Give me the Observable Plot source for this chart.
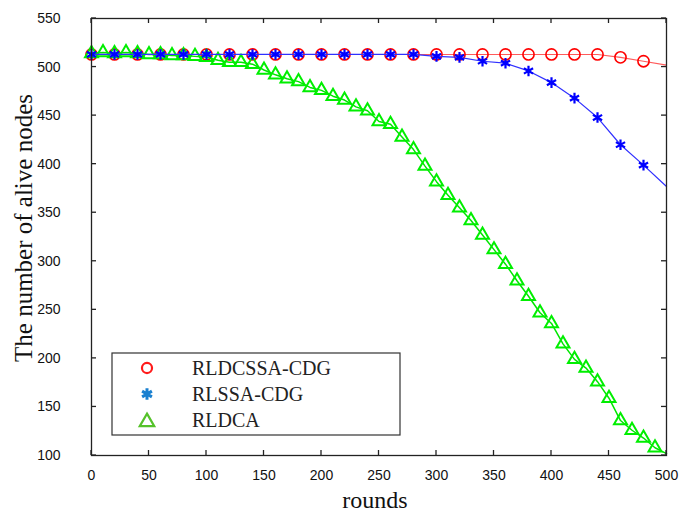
<!DOCTYPE html>
<html>
<head>
<meta charset="utf-8">
<script src="https://cdn.jsdelivr.net/npm/d3@7"></script>
<script src="https://cdn.jsdelivr.net/npm/@observablehq/plot@0.6"></script>
<style>
  html, body { margin: 0; padding: 0; background: white; }
  #chart { position: relative; width: 682px; height: 513px; }
</style>
</head>
<body>
<div id="chart"></div>
<script>
// ---- data ----
const xTicks = [0, 50, 100, 150, 200, 250, 300, 350, 400, 450, 500];
const yTicks = [100, 150, 200, 250, 300, 350, 400, 450, 500, 550];

// RLDCSSA-CDG and RLSSA-CDG: sampled every 20 rounds (markers at 0..480, line to 500)
const rounds20 = [0, 20, 40, 60, 80, 100, 120, 140, 160, 180, 200, 220, 240, 260, 280, 300, 320, 340, 360, 380, 400, 420, 440, 460, 480, 500];
const rldcssa = [513, 513, 513, 513, 513, 513, 513, 513, 513, 513, 513, 513, 513, 513, 513, 513, 513, 513, 513, 513, 513, 513, 513, 510, 506, 502];
const rlssa   = [513, 513, 513, 513, 513, 513, 513, 513, 513, 513, 513, 513, 513, 513, 513, 511, 510, 506, 504, 496, 484, 468, 448, 420, 399, 377];

// RLDCA: sampled every 10 rounds (markers at 0..490, line to 500)
const rounds10 = [0, 10, 20, 30, 40, 50, 60, 70, 80, 90, 100, 110, 120, 130, 140, 150, 160, 170, 180, 190, 200, 210, 220, 230, 240, 250, 260, 270, 280, 290, 300, 310, 320, 330, 340, 350, 360, 370, 380, 390, 400, 410, 420, 430, 440, 450, 460, 470, 480, 490, 500];
const rldca = [514, 515, 514, 515, 514, 513, 513, 512, 512, 511, 510, 507, 505, 505, 503, 497, 492, 488, 485, 479, 476, 470, 466, 459, 455, 444, 441, 428, 415, 398, 382, 368, 355, 342, 327, 312, 297, 280, 264, 247, 236, 215, 199, 190, 176, 159, 136, 126, 118, 108, 102];

const seriesNames = ["RLDCSSA-CDG", "RLSSA-CDG", "RLDCA"];
const markerEnd = 500; // last sample has no marker

// ---- tables built from the arrays ----
const redData = rounds20.map((r, i) => ({round: r, value: rldcssa[i]}));
const blueData = rounds20.map((r, i) => ({round: r, value: rlssa[i]}));
const greenData = rounds10.map((r, i) => ({round: r, value: rldca[i]}));
const withMarker = d => d.round < markerEnd;

const chart = Plot.plot({
  width: 682,
  height: 513,
  marginLeft: 91,
  marginRight: 16,
  marginTop: 18,
  marginBottom: 58,
  style: {fontFamily: "'Liberation Sans', Arial, sans-serif", fontSize: "14px", color: "#111", background: "white"},
  x: {domain: [0, 500]},
  y: {domain: [100, 550]},
  marks: [
    // series
    Plot.line(redData, {x: "round", y: "value", stroke: "#ff5a5a", strokeWidth: 1.1}),
    Plot.dot(redData.filter(withMarker), {x: "round", y: "value", r: 5.6, stroke: "#ff0000", strokeWidth: 1.6, fill: "none"}),
    Plot.line(greenData, {x: "round", y: "value", stroke: "#00e600", strokeWidth: 1.5}),
    Plot.dot(greenData.filter(withMarker), {x: "round", y: "value", symbol: "triangle2", r: 6.2, stroke: "#00ee00", strokeWidth: 2}),
    Plot.line(blueData, {x: "round", y: "value", stroke: "#3030ff", strokeWidth: 1.2}),
    Plot.dot(blueData.filter(withMarker), {x: "round", y: "value", symbol: "asterisk", r: 5, stroke: "#0000ff", strokeWidth: 2.2}),
    // tick labels
    Plot.axisX(xTicks, {anchor: "bottom", tickSize: 0, tickPadding: 15, label: null}),
    Plot.axisY(yTicks, {anchor: "left", tickSize: 0, tickPadding: 31, label: null}),
    Plot.frame({stroke: "#222", strokeWidth: 1.3})
  ]
});

document.getElementById("chart").appendChild(chart);

const svg = d3.select(chart);
const sx = v => chart.scale("x").apply(v);
const sy = v => chart.scale("y").apply(v);
const [x0, x1] = chart.scale("x").range;
const [yB, yT] = chart.scale("y").range; // bottom, top
const tick = 5;

// ---- inward tick marks on all four sides, placed through Plot's scales ----
const tg = svg.append("g").attr("stroke", "#222").attr("stroke-width", 1.3);
xTicks.forEach(t => {
  const x = sx(t);
  tg.append("line").attr("x1", x).attr("x2", x).attr("y1", yB).attr("y2", yB - tick);
  tg.append("line").attr("x1", x).attr("x2", x).attr("y1", yT).attr("y2", yT + tick);
});
yTicks.forEach(t => {
  const y = sy(t);
  tg.append("line").attr("x1", x0).attr("x2", x0 + tick).attr("y1", y).attr("y2", y);
  tg.append("line").attr("x1", x1).attr("x2", x1 - tick).attr("y1", y).attr("y2", y);
});

// ---- titles and legend ----
const serif = "'Liberation Serif', 'Times New Roman', serif";

svg.append("text")
  .attr("x", 375).attr("y", 508)
  .attr("text-anchor", "middle")
  .style("font-family", serif).style("font-size", "24px").attr("fill", "#111")
  .text("rounds");

svg.append("text")
  .attr("transform", "translate(32,228) rotate(-90)")
  .attr("text-anchor", "middle")
  .style("font-family", serif).style("font-size", "25px").attr("fill", "#111")
  .text("The number of alive nodes");

const lg = svg.append("g");
lg.append("rect").attr("x", 112).attr("y", 353).attr("width", 288).attr("height", 82)
  .attr("fill", "white").attr("stroke", "#333").attr("stroke-width", 1.2);

const legendColors = ["#ff1a1a", "#1a80d0", "#55c22a"];
const legendSymbols = [d3.symbolCircle, d3.symbolAsterisk, d3.symbolTriangle2];
const legendSizes = [80, 90, 150];
const rowY = [368, 394, 420];
seriesNames.forEach((name, i) => {
  lg.append("path")
    .attr("d", d3.symbol(legendSymbols[i], legendSizes[i])())
    .attr("transform", `translate(147,${rowY[i] + (i === 2 ? 2 : 0)})`)
    .attr("fill", "none").attr("stroke", legendColors[i]).attr("stroke-width", i === 1 ? 3 : 2.2);
  lg.append("text")
    .attr("x", 192).attr("y", rowY[i] + 7)
    .attr("text-anchor", "start")
    .style("font-family", serif).style("font-size", "20px").attr("fill", "#222")
    .text(name);
});
</script>
</body>
</html>
